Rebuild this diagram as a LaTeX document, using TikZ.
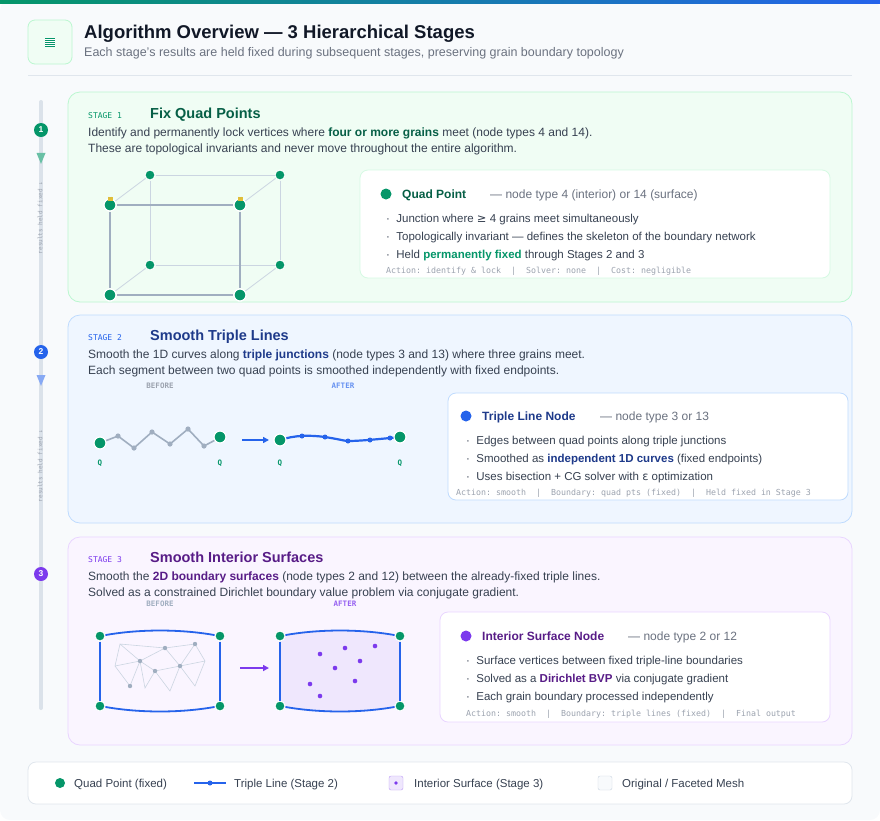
\documentclass[tikz,border=0pt]{standalone}
\usepackage{fontspec}
\setmainfont{Liberation Sans}
\setmonofont{DejaVu Sans Mono}
\newfontfamily\symf{DejaVu Sans}
\usetikzlibrary{arrows.meta,shapes.geometric}
\definecolor{bg}{HTML}{F8FAFC}
\definecolor{gq}{HTML}{059669}
\definecolor{gdark}{HTML}{065F46}
\definecolor{gfill}{HTML}{F0FDF4}
\definecolor{gline}{HTML}{BBF7D0}
\definecolor{bq}{HTML}{2563EB}
\definecolor{bdark}{HTML}{1E3A8A}
\definecolor{bfill}{HTML}{EFF6FF}
\definecolor{bline}{HTML}{BFDBFE}
\definecolor{pq}{HTML}{7C3AED}
\definecolor{pdark}{HTML}{581C87}
\definecolor{pfill}{HTML}{FAF5FF}
\definecolor{pline}{HTML}{E9D5FF}
\definecolor{txt}{HTML}{374151}
\definecolor{mut}{HTML}{6B7280}
\definecolor{faint}{HTML}{9CA3AF}
\definecolor{ttl}{HTML}{111827}
\definecolor{edge}{HTML}{A0AEC0}
\definecolor{edgel}{HTML}{CBD5E1}
\tikzset{
 t/.style={anchor=base west,inner sep=0pt,text=txt,font=\fontsize{12}{14}\selectfont},
 ft/.style={anchor=base west,inner sep=0pt,text=faint,font=\ttfamily\fontsize{8.3}{10}\selectfont},
 card/.style={fill=white,rounded corners=8pt,line width=0.8pt},
 stage/.style={rounded corners=12pt,line width=0.8pt},
 qp/.style={circle,fill=gq,draw=white,line width=1.2pt,inner sep=0pt,minimum size=12pt},
 qps/.style={circle,fill=gq,draw=white,line width=1pt,inner sep=0pt,minimum size=10pt},
 sd/.style={circle,inner sep=0pt,minimum size=#1},
 ql/.style={inner sep=0pt,text=gq,font=\ttfamily\bfseries\fontsize{7.5}{9}\selectfont},
 lab/.style={inner sep=0pt,font=\ttfamily\bfseries\fontsize{7.5}{9}\selectfont},
}
\begin{document}
\begin{tikzpicture}[x=1pt,y=-1pt]
\useasboundingbox (0,0) rectangle (880,820);
\fill[bg,rounded corners=10pt] (0,0) rectangle (880,820);
\shade[left color=gq,right color=bq] (0,0) rectangle (880,3);
% header
\draw[fill=gfill,draw=gline,rounded corners=7pt,line width=0.8pt] (28,20) rectangle (72,64);
\node[sd=9pt,fill=gq,rectangle,minimum width=10pt,minimum height=9pt] (icon) at (50,42) {};
\foreach \yy in {39.5,41.5,43.5,45.5}{\draw[white,line width=0.4pt] (45,\yy) -- (55,\yy);}
\node[t,text=ttl,font=\bfseries\fontsize{18.5}{22}\selectfont] (title) at (84,38) {Algorithm Overview — 3 Hierarchical Stages};
\node[t,text=mut,font=\fontsize{12.5}{15}\selectfont] (sub) at (84,56) {Each stage's results are held fixed during subsequent stages, preserving grain boundary topology};
\draw[edgel!60,line width=0.8pt] (28,75) -- (852,75);
% timeline
\draw[edgel!70,line width=4pt,line cap=round] (41,102) -- (41,708);
\node[circle,fill=gq,text=white,inner sep=0pt,minimum size=14pt,font=\bfseries\fontsize{8.5}{9}\selectfont] (c1) at (41,130) {1};
\node[circle,fill=bq,text=white,inner sep=0pt,minimum size=14pt,font=\bfseries\fontsize{8.5}{9}\selectfont] (c2) at (41,352) {2};
\node[circle,fill=pq,text=white,inner sep=0pt,minimum size=14pt,font=\bfseries\fontsize{8.5}{9}\selectfont] (c3) at (41,574) {3};
\node[isosceles triangle,shape border rotate=-90,fill=gq!60,inner sep=0pt,minimum width=9pt,minimum height=7pt] (a1) at (41,156) {};
\node[isosceles triangle,shape border rotate=-90,fill=bq!55,inner sep=0pt,minimum width=9pt,minimum height=7pt] (a2) at (41,378) {};
\node[rotate=90,inner sep=0pt,text=faint,font=\ttfamily\fontsize{6}{7}\selectfont] (r1) at (40,218) {results held fixed ↓};
\node[rotate=90,inner sep=0pt,text=faint,font=\ttfamily\fontsize{6}{7}\selectfont] (r2) at (40,466) {results held fixed ↓};
% stage boxes
\draw[stage,fill=gfill,draw=gline] (68,92) rectangle (852,302);
\draw[stage,fill=bfill,draw=bline] (68,315) rectangle (852,523);
\draw[stage,fill=pfill,draw=pline] (68,537) rectangle (852,745);
% ---------- stage 1
\node[t,text=gq,font=\ttfamily\fontsize{8}{9}\selectfont] (s1) at (88,118) {STAGE 1};
\node[t,text=gdark,font=\bfseries\fontsize{14.5}{17}\selectfont] (s1t) at (150,118) {Fix Quad Points};
\node[t] (d11) at (88,136) {Identify and permanently lock vertices where \textcolor{gdark}{\textbf{four or more grains}} meet (node types 4 and 14).};
\node[t] (d12) at (88,152) {These are topological invariants and never move throughout the entire algorithm.};
\node[qps] (b1) at (150,175) {};
\node[qps] (b2) at (280,175) {};
\node[qps] (b3) at (150,265) {};
\node[qps] (b4) at (280,265) {};
\draw[edgel,line width=1pt] (b1) -- (b2) (b2) -- (b4) (b4) -- (b3) (b3) -- (b1);
\node[qp] (f1) at (110,205) {};
\node[qp] (f2) at (240,205) {};
\node[qp] (f3) at (110,295) {};
\node[qp] (f4) at (240,295) {};
\draw[edgel,line width=0.8pt] (f1) -- (b1) (f2) -- (b2) (f3) -- (b3) (f4) -- (b4);
\draw[edge,line width=2pt] (f1) -- (f2) (f2) -- (f4) (f4) -- (f3) (f3) -- (f1);
\node[qp] at (110,205) {};\node[qp] at (240,205) {};\node[qp] at (110,295) {};\node[qp] at (240,295) {};
\foreach \xx in {110,240}{\fill[yellow!50!brown] (\xx-2.5,197) rectangle (\xx+2.5,201); \draw[yellow!40!brown,line width=0.7pt] (\xx-1.5,197) arc (180:0:1.5);}
\draw[card,draw=gline!60] (360,170) rectangle (830,278);
\node[sd=11pt,fill=gq] (k1) at (386,194) {};
\node[t,text=gdark,font=\bfseries\fontsize{12}{14}\selectfont] (k1t) at (402,198) {Quad Point};
\node[t,text=mut] (k1d) at (490,198) {— node type 4 (interior) or 14 (surface)};
\node[t,font=\fontsize{11.5}{14}\selectfont] (k11) at (386,222) {· \ Junction where {\symf ≥} 4 grains meet simultaneously};
\node[t,font=\fontsize{11.5}{14}\selectfont] (k12) at (386,240) {· \ Topologically invariant — defines the skeleton of the boundary network};
\node[t,font=\fontsize{11.5}{14}\selectfont] (k13) at (386,258) {· \ Held \textcolor{gq}{\textbf{permanently fixed}} through Stages 2 and 3};
\node[ft] (k1f) at (386,273) {Action: identify \& lock \ | \ Solver: none \ | \ Cost: negligible};
% ---------- stage 2
\node[t,text=bq,font=\ttfamily\fontsize{8}{9}\selectfont] (s2) at (88,340) {STAGE 2};
\node[t,text=bdark,font=\bfseries\fontsize{14.5}{17}\selectfont] (s2t) at (150,340) {Smooth Triple Lines};
\node[t] (d21) at (88,358) {Smooth the 1D curves along \textcolor{bdark}{\textbf{triple junctions}} (node types 3 and 13) where three grains meet.};
\node[t] (d22) at (88,374) {Each segment between two quad points is smoothed independently with fixed endpoints.};
\node[lab,text=faint] (bf2) at (160,386) {BEFORE};
\node[lab,text=bq!70] (af2) at (343,386) {AFTER};
\draw[edge,line width=1.6pt] (100,443) -- (118,436) -- (134,448) -- (152,432) -- (170,444) -- (188,429) -- (204,446) -- (219,438);
\foreach \p in {(118,436),(134,448),(152,432),(170,444),(188,429),(204,446)} \fill[edge] \p circle (2.6);
\node[qp] (q1) at (100,443) {};
\node[qp] (q2) at (220,437) {};
\node[qp] (q3) at (280,440) {};
\node[qp] (q4) at (400,437) {};
\coordinate (ar1) at (242,440); \coordinate (ar2) at (269,440);
\draw[bq,line width=1.5pt,-{Triangle[length=6pt,width=6pt]}] (ar1) -- (ar2);
\draw[bq,line width=2.2pt] (q3.center) .. controls (295,435) and (310,435) .. (325,437) .. controls (338,439) and (345,441) .. (348,441) .. controls (360,441) and (380,439) .. (q4.center);
\node[qp] at (280,440) {};\node[qp] at (400,437) {};
\foreach \p in {(302,436),(325,437),(348,441),(370,440),(390,438)} \fill[bq] \p circle (2.5);
\node[ql] at (100,463) {Q};\node[ql] at (220,463) {Q};\node[ql] at (280,463) {Q};\node[ql] at (400,463) {Q};
\draw[card,draw=bline] (448,393) rectangle (848,500);
\node[sd=11pt,fill=bq] (k2) at (466,416) {};
\node[t,text=bdark,font=\bfseries\fontsize{12}{14}\selectfont] (k2t) at (482,420) {Triple Line Node};
\node[t,text=mut] (k2d) at (600,420) {— node type 3 or 13};
\node[t,font=\fontsize{11.5}{14}\selectfont] (k21) at (466,444) {· \ Edges between quad points along triple junctions};
\node[t,font=\fontsize{11.5}{14}\selectfont] (k22) at (466,462) {· \ Smoothed as \textcolor{bdark}{\textbf{independent 1D curves}} (fixed endpoints)};
\node[t,font=\fontsize{11.5}{14}\selectfont] (k23) at (466,480) {· \ Uses bisection + CG solver with {\symf ε} optimization};
\node[ft] (k2f) at (456,495) {Action: smooth \ | \ Boundary: quad pts (fixed) \ | \ Held fixed in Stage 3};
% ---------- stage 3
\node[t,text=pq,font=\ttfamily\fontsize{8}{9}\selectfont] (s3) at (88,562) {STAGE 3};
\node[t,text=pdark,font=\bfseries\fontsize{14.5}{17}\selectfont] (s3t) at (150,562) {Smooth Interior Surfaces};
\node[t] (d31) at (88,580) {Smooth the \textcolor{pdark}{\textbf{2D boundary surfaces}} (node types 2 and 12) between the already-fixed triple lines.};
\node[t] (d32) at (88,596) {Solved as a constrained Dirichlet boundary value problem via conjugate gradient.};
\node[lab,text=edge] (bf3) at (160,604) {BEFORE};
\node[lab,text=pq!80] (af3) at (345,604) {AFTER};
% before mesh
\draw[edgel,line width=0.6pt] (120,644) -- (165,648) -- (195,644) -- (205,661) -- (195,686) -- (180,666) -- (170,691) -- (155,671) -- (145,688) -- (140,661) -- (130,686) -- (115,666) -- (120,644) -- (140,661) -- (165,648) -- (180,666) -- (195,644)
 (115,666) -- (140,661) -- (155,671) -- (180,666) -- (205,661);
\foreach \p in {(165,648),(195,644),(140,661),(180,666),(155,671),(130,686)} \fill[edge] \p circle (2.2);
\node[qps] (m1) at (100,636) {};\node[qps] (m2) at (220,636) {};\node[qps] (m3) at (100,706) {};\node[qps] (m4) at (220,706) {};
\draw[bq,line width=1.8pt] (m1) .. controls (140,629) and (180,629) .. (m2);
\draw[bq,line width=1.8pt] (m3) .. controls (140,713) and (180,713) .. (m4);
\draw[bq,line width=1.8pt] (m1) -- (m3) (m2) -- (m4);
\coordinate (ar3) at (240,668); \coordinate (ar4) at (269,668);
\draw[pq,line width=1.5pt,-{Triangle[length=6pt,width=6pt]}] (ar3) -- (ar4);
% after
\fill[pq!12] (280,636) .. controls (320,629) and (360,629) .. (400,636) -- (400,706) .. controls (360,713) and (320,713) .. (280,706) -- cycle;
\node[qps] (n1) at (280,636) {};\node[qps] (n2) at (400,636) {};\node[qps] (n3) at (280,706) {};\node[qps] (n4) at (400,706) {};
\draw[bq,line width=1.8pt] (n1) .. controls (320,629) and (360,629) .. (n2);
\draw[bq,line width=1.8pt] (n3) .. controls (320,713) and (360,713) .. (n4);
\draw[bq,line width=1.8pt] (n1) -- (n3) (n2) -- (n4);
\foreach \p in {(320,654),(345,648),(375,646),(360,661),(335,668),(355,681),(310,684),(320,696)} \fill[pq] \p circle (2.3);
\draw[card,draw=pline] (440,612) rectangle (830,722);
\node[sd=11pt,fill=pq] (k3) at (466,636) {};
\node[t,text=pdark,font=\bfseries\fontsize{12}{14}\selectfont] (k3t) at (482,640) {Interior Surface Node};
\node[t,text=mut] (k3d) at (628,640) {— node type 2 or 12};
\node[t,font=\fontsize{11.5}{14}\selectfont] (k31) at (466,664) {· \ Surface vertices between fixed triple-line boundaries};
\node[t,font=\fontsize{11.5}{14}\selectfont] (k32) at (466,682) {· \ Solved as a \textcolor{pdark}{\textbf{Dirichlet BVP}} via conjugate gradient};
\node[t,font=\fontsize{11.5}{14}\selectfont] (k33) at (466,700) {· \ Each grain boundary processed independently};
\node[ft] (k3f) at (466,716) {Action: smooth \ | \ Boundary: triple lines (fixed) \ | \ Final output};
% legend
\draw[card,draw=edgel!60] (28,762) rectangle (852,804);
\node[sd=10pt,fill=gq] (l1) at (60,783) {};
\node[t,font=\fontsize{11.5}{14}\selectfont] (l1t) at (74,787) {Quad Point (fixed)};
\coordinate (l2a) at (194,783); \coordinate (l2b) at (226,783);
\draw[bq,line width=2pt] (l2a) -- (l2b);
\fill[bq] (210,783) circle (2.5);
\node[t,font=\fontsize{11.5}{14}\selectfont] (l2t) at (234,787) {Triple Line (Stage 2)};
\node[draw=pq!50,fill=pq!12,rounded corners=2pt,inner sep=0pt,minimum size=14pt] (l3) at (396,783) {};
\fill[pq] (396,783) circle (1.8);
\node[t,font=\fontsize{11.5}{14}\selectfont] (l3t) at (414,787) {Interior Surface (Stage 3)};
\node[draw=edgel,fill=bg,rounded corners=2pt,inner sep=0pt,minimum size=14pt] (l4) at (605,783) {};
\node[t,font=\fontsize{11.5}{14}\selectfont] (l4t) at (622,787) {Original / Faceted Mesh};
\end{tikzpicture}
\end{document}
